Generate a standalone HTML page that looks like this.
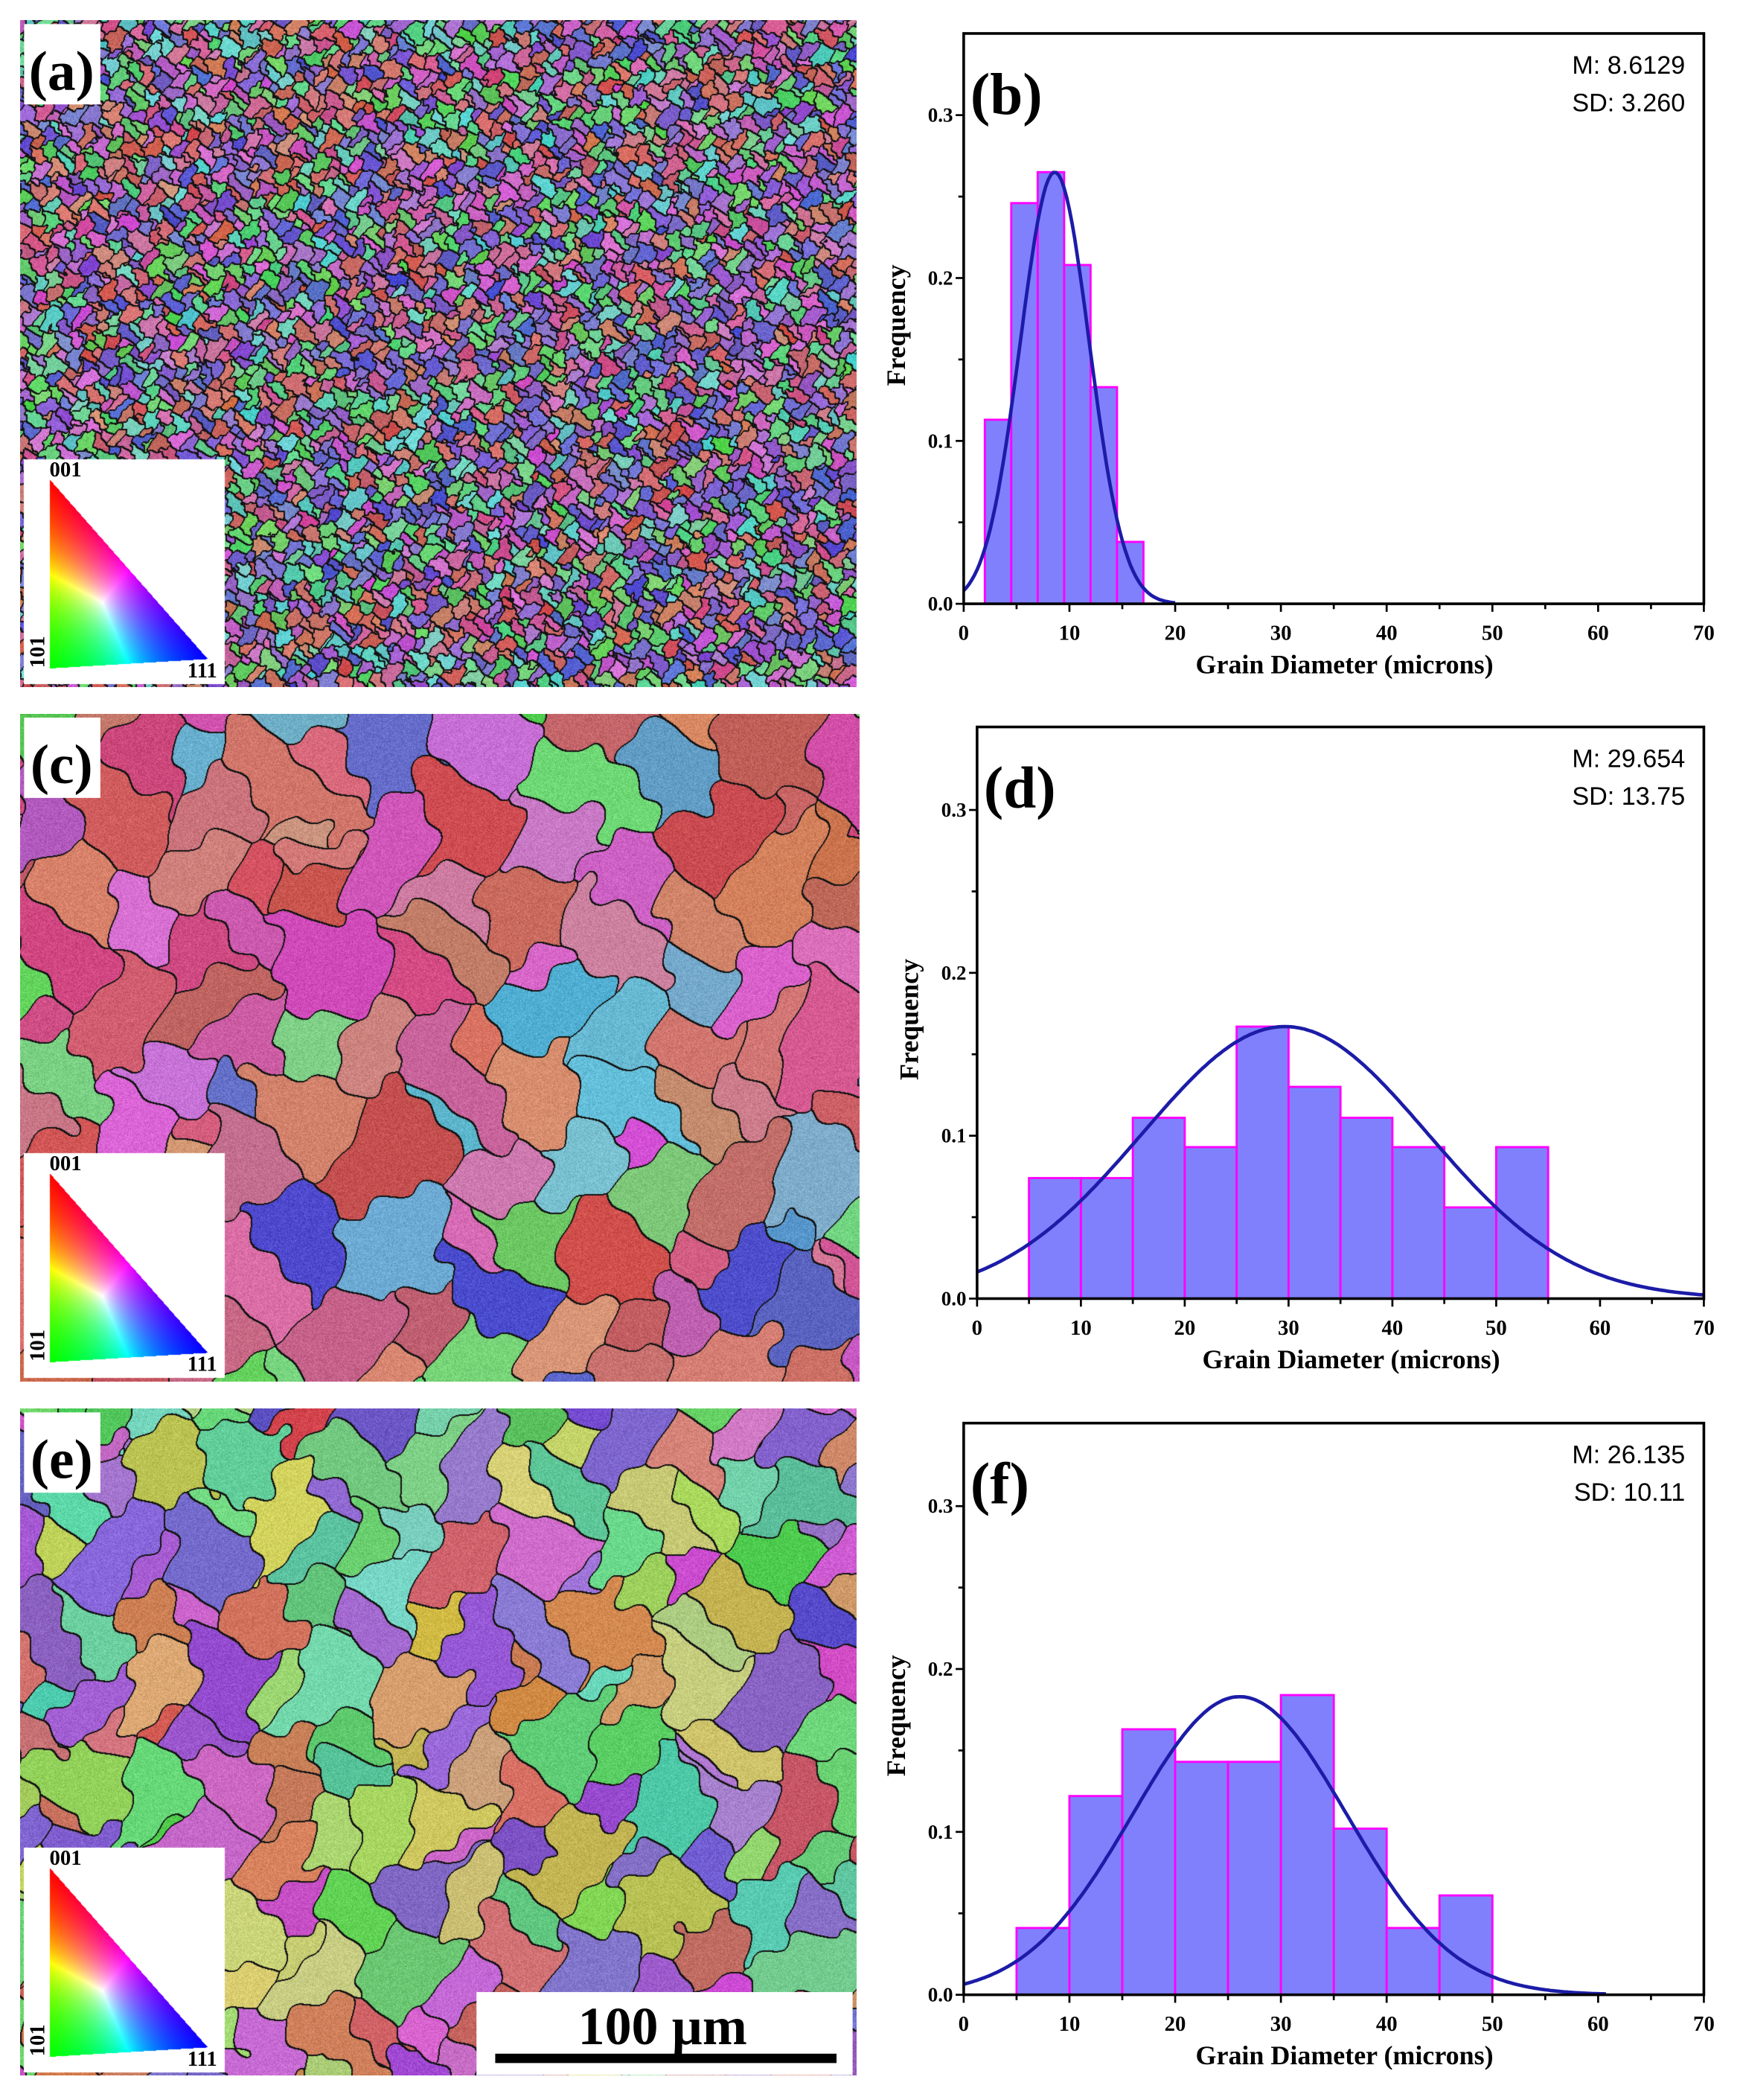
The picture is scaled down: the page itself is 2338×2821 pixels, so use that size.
<!DOCTYPE html>
<html><head><meta charset="utf-8"><style>
html,body{margin:0;padding:0;background:#fff}
#wrap{position:relative;width:2338px;height:2821px;overflow:hidden;background:#fff}
canvas{position:absolute}
svg{position:absolute;left:0;top:0}
</style></head><body><div id="wrap">
<canvas id="ca"></canvas><canvas id="cc"></canvas><canvas id="ce"></canvas>
<svg id="ov" width="2338" height="2821" viewBox="0 0 1300 1568.6" preserveAspectRatio="none" font-family="'Liberation Serif',serif"></svg>
</div>
<script>
const K=2338/1300;
function rng(s){return ()=>{s=(s*1664525+1013904223)>>>0;return s/4294967296}}
function hsl(h,s,l){s/=100;l/=100;const k=n=>(n+h/30)%12,a=s*Math.min(l,1-l),f=n=>l-a*Math.max(-1,Math.min(k(n)-3,Math.min(9-k(n),1)));return [f(0)*255,f(8)*255,f(4)*255]}
function grains(id,px,py,pw,ph,cell,hues,seed,lw){
 const c=document.getElementById(id);const W=Math.round(pw*K),H=Math.round(ph*K);
 c.width=W;c.height=H;c.style.left=Math.round(px*K)+'px';c.style.top=Math.round(py*K)+'px';
 const ctx=c.getContext('2d');const R=rng(seed);
 const gx=Math.ceil(W/cell)+2,gy=Math.ceil(H/cell)+2;const S=[];
 for(let j=0;j<gy;j++)for(let i=0;i<gx;i++){const h=hues[Math.floor(R()*hues.length)]+(R()-.5)*20;
  S.push({x:(i-1+R())*cell,y:(j-1+R())*cell,w:(R()-.5)*cell*0.5,col:hsl((h+360)%360,42+R()*20,54+R()*12)});}
 const idb=new Int32Array(W*H);const p1=R()*9,p2=R()*9;
 for(let y=0;y<H;y++)for(let x=0;x<W;x++){
  const wx=x+cell*0.22*Math.sin(y/cell*2.7+p1)+cell*0.1*Math.sin((x+y)/cell*7+p2);
  const wy=y+cell*0.22*Math.sin(x/cell*2.3+p2)+cell*0.1*Math.sin((x-y)/cell*6.5+p1);
  const ci=Math.floor(wx/cell)+1,cj=Math.floor(wy/cell)+1;let best=1e18,b=0;
  for(let dj=-1;dj<=1;dj++)for(let di=-1;di<=1;di++){const ii=ci+di,jj=cj+dj;if(ii<0||jj<0||ii>=gx||jj>=gy)continue;
   const k=jj*gx+ii,s=S[k];const d=Math.hypot(wx-s.x,wy-s.y)-s.w;if(d<best){best=d;b=k}}
  idb[y*W+x]=b;}
 const im=ctx.createImageData(W,H),d=im.data;
 for(let y=0;y<H;y++)for(let x=0;x<W;x++){const o=y*W+x,k=idb[o];let edge=false;
  for(let t=1;t<=lw&&!edge;t++){if(x+t<W&&idb[o+t]!==k)edge=true;if(y+t<H&&idb[o+t*W]!==k)edge=true;}
  const col=S[k].col;const n=(R()-.5)*45;
  d[o*4]=edge?20:col[0]+n;d[o*4+1]=edge?20:col[1]+n;d[o*4+2]=edge?20:col[2]+n;d[o*4+3]=255;}
 const bx=Math.round(3*K),by=Math.round(328*K),bw=Math.round(150*K),bh=Math.round(168*K);
 const T=[22*K,343*K],L=[22*K,484*K],Rr=[140*K,477*K];
 const den=(L[1]-Rr[1])*(T[0]-Rr[0])+(Rr[0]-L[0])*(T[1]-Rr[1]);
 for(let y=by;y<by+bh&&y<H;y++)for(let x=bx;x<bx+bw;x++){const o=(y*W+x)*4;
  const a=((L[1]-Rr[1])*(x-Rr[0])+(Rr[0]-L[0])*(y-Rr[1]))/den;
  const bb=((Rr[1]-T[1])*(x-Rr[0])+(T[0]-Rr[0])*(y-Rr[1]))/den;const cc=1-a-bb;
  let r=255,g=255,bl=255;
  if(a>=0&&bb>=0&&cc>=0){const m=Math.max(a,bb,cc);r=a/m*255;g=bb/m*255;bl=cc/m*255;}
  d[o]=r;d[o+1]=g;d[o+2]=bl;d[o+3]=255;}
 ctx.putImageData(im,0,0);
}
grains('ca',15,15,625,498,17,[0,10,120,140,175,235,250,270,300,330],11,2);
grains('cc',15,533,627,499,95,[0,5,15,300,310,330,120,235,200,350],23,2);
grains('ce',15,1052,625,498,80,[0,20,60,90,120,130,160,250,270,300],37,2);

const sv=document.getElementById('ov');let h='';
function T(x,y,s,sz,extra){h+=`<text x="${x}" y="${y}" font-size="${sz}" ${extra||''}>${s}</text>`}
[[15,15,'(a)'],[15,533,'(c)'],[15,1052,'(e)']].forEach(([px,py,l])=>{
 h+=`<rect x="${px+3}" y="${py+3}" width="57" height="60" fill="#fff"/>`;
 T(px+31,py+52,l,42,'font-weight="bold" text-anchor="middle"');
 T(px+22,py+341,'001',16,'font-weight="bold"');
 T(px+125,py+491,'111',16,'font-weight="bold"');
 h+=`<text transform="translate(${px+18},${py+484}) rotate(-90)" font-size="16" font-weight="bold">101</text>`;
});
h+=`<rect x="356" y="1488" width="281" height="62" fill="#fff"/>`;
T(495,1527,'100 µm',40,'font-weight="bold" text-anchor="middle"');
h+=`<rect x="370" y="1534" width="255" height="7" fill="#000"/>`;
function hist(x0,x1,top,y0,y03,bars,mu,sd,peak,lab,M,SD){
 const X=v=>x0+(x1-x0)*v/70,Y=v=>y0-(y0-y03)*v/0.3;
 bars.forEach(([a,b,f])=>{h+=`<rect x="${X(a)}" y="${Y(f)}" width="${X(b)-X(a)}" height="${y0-Y(f)}" fill="#8080fc" stroke="#f0f" stroke-width="1.6"/>`});
 let p='';for(let v=0;v<=70;v+=0.25){const f=peak*Math.exp(-(v-mu)*(v-mu)/(2*sd*sd));if(f<0.0005&&v>mu)break;p+=(p?'L':'M')+X(v).toFixed(1)+','+Y(f).toFixed(1)}
 h+=`<path d="${p}" fill="none" stroke="#1c1ca8" stroke-width="2.6"/>`;
 h+=`<rect x="${x0}" y="${top}" width="${x1-x0}" height="${y0-top}" fill="none" stroke="#000" stroke-width="2"/>`;
 for(let v=0;v<=70;v+=5){const mj=v%10==0;h+=`<line x1="${X(v)}" y1="${y0}" x2="${X(v)}" y2="${y0+(mj?6:4)}" stroke="#000" stroke-width="1.5"/>`;
  if(mj)T(X(v),y0+27,v,16,'font-weight="bold" text-anchor="middle"');}
 for(let v=0;v<=0.3001;v+=0.05){const mj=Math.round(v*100)%10==0;h+=`<line x1="${x0}" y1="${Y(v)}" x2="${x0-(mj?6:4)}" y2="${Y(v)}" stroke="#000" stroke-width="1.5"/>`;
  if(mj)T(x0-8,Y(v)+5,v.toFixed(1),15,'font-weight="bold" text-anchor="end"');}
 T((x0+x1)/2+8,y0+52,'Grain Diameter (microns)',20,'font-weight="bold" text-anchor="middle"');
 h+=`<text transform="translate(${x0-44},${(top+y0)/2+5}) rotate(-90)" font-size="20" font-weight="bold" text-anchor="middle">Frequency</text>`;
 T(x0+5,top+60,lab,44,'font-weight="bold"');
 T(x1-14,top+30,'M: '+M,19,'font-family="Liberation Sans,sans-serif" text-anchor="end"');
 T(x1-14,top+58,'SD: '+SD,19,'font-family="Liberation Sans,sans-serif" text-anchor="end"');
}
hist(720,1273,25,451,86,[[2,4.5,.113],[4.5,7,.246],[7,9.5,.265],[9.5,12,.208],[12,14.5,.133],[14.5,17,.038]],8.61,3.26,.265,'(b)','8.6129','3.260');
hist(730,1273,543,970,605,[[5,10,.074],[10,15,.074],[15,20,.111],[20,25,.093],[25,30,.167],[30,35,.130],[35,40,.111],[40,45,.093],[45,50,.056],[50,55,.093]],29.65,13.75,.167,'(d)','29.654','13.75');
hist(720,1273,1063,1490,1125,[[5,10,.041],[10,15,.122],[15,20,.163],[20,25,.143],[25,30,.143],[30,35,.184],[35,40,.102],[40,45,.041],[45,50,.061]],26.1,10.1,.183,'(f)','26.135','10.11');
sv.innerHTML=h;
</script></body></html>
